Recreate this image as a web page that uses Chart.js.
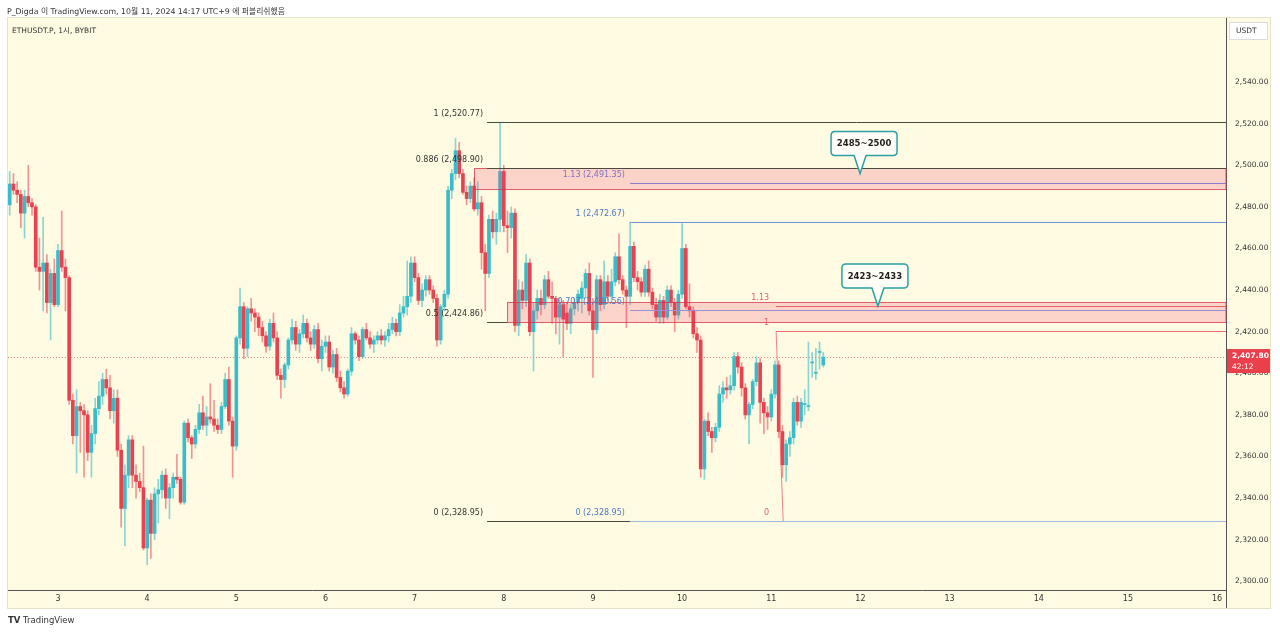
<!DOCTYPE html>
<html>
<head>
<meta charset="utf-8">
<title>ETHUSDT.P 1시</title>
<script src="https://cdn.jsdelivr.net/npm/chart.js@4.4.1/dist/chart.umd.min.js"></script>
<style>
  html, body { margin: 0; padding: 0; background: #ffffff; }
  body { width: 1280px; height: 634px; position: relative; overflow: hidden; }
  #chart { position: absolute; left: 0; top: 0; }
  .txt { position: absolute; font-family: "DejaVu Sans", "Noto Sans CJK KR", sans-serif; color: #333; white-space: nowrap; }
  #publish { left: 7px; top: 5px; font-size: 7.8px; }
  #symbol { left: 12px; top: 24px; font-size: 7.5px; }
  #brand { left: 8px; top: 615px; font-size: 8.5px; }
</style>
</head>
<body>
<canvas id="chart" width="1280" height="634"></canvas>
<div class="txt" id="publish">P_Digda 이 TradingView.com, 10월 11, 2024 14:17 UTC+9 에 퍼블리쉬했음</div>
<div class="txt" id="symbol">ETHUSDT.P, 1시, BYBIT</div>
<div class="txt" id="brand"><b>TV</b> TradingView</div>
<script>
// 1시간봉. x 값 = 10월 3일 00:00 부터 몇 시간째인지
const firstHour = -13

const opens = [
    2481, 2491, 2488, 2486, 2477, 2485, 2482, 2480, 2451, 2449,
    2453, 2434, 2448, 2433, 2459, 2451, 2446, 2387, 2370, 2384,
    2382, 2380, 2362, 2371, 2383, 2389, 2397, 2393, 2382, 2388,
    2363, 2335, 2351, 2368, 2351, 2348, 2345, 2316, 2339, 2323,
    2342, 2344, 2351, 2340, 2345, 2350, 2349, 2338, 2376, 2369,
    2366, 2373, 2381, 2375, 2379, 2378, 2375, 2373, 2384, 2397,
    2377, 2365, 2417, 2432, 2412, 2431, 2429, 2427, 2422, 2418,
    2413, 2424, 2417, 2399, 2397, 2404, 2416, 2422, 2414, 2419,
    2424, 2417, 2414, 2421, 2407, 2413, 2415, 2403, 2409, 2398,
    2393, 2390, 2401, 2419, 2416, 2408, 2421, 2417, 2414, 2416,
    2418, 2416, 2418, 2421, 2424, 2420, 2429, 2432, 2437, 2453,
    2446, 2435, 2440, 2445, 2440, 2436, 2416, 2432, 2438, 2488,
    2496, 2507, 2496, 2487, 2484, 2490, 2479, 2482, 2458, 2448,
    2474, 2468, 2474, 2497, 2471, 2470, 2477, 2423, 2440, 2435,
    2453, 2420, 2430, 2436, 2433, 2445, 2437, 2436, 2427, 2433,
    2429, 2424, 2431, 2434, 2436, 2441, 2448, 2430, 2421, 2445,
    2433, 2444, 2437, 2444, 2456, 2445, 2440, 2437, 2461, 2446,
    2444, 2439, 2450, 2439, 2433, 2427, 2435, 2427, 2440, 2434,
    2428, 2438, 2460, 2432, 2430, 2419, 2416, 2354, 2377, 2372,
    2369, 2374, 2390, 2393, 2392, 2394, 2408, 2403, 2393, 2380,
    2385, 2396, 2405, 2386, 2381, 2379, 2390, 2404, 2372, 2356,
    2366, 2369, 2386, 2377, 2385, 2384, 2405, 2400, 2410, 2404
]
const highs = [
    2497, 2496, 2492, 2488, 2488, 2500, 2484, 2481, 2465, 2475,
    2457, 2450, 2455, 2462, 2478, 2455, 2447, 2390, 2392, 2386,
    2385, 2382, 2375, 2388, 2396, 2400, 2402, 2399, 2392, 2392,
    2366, 2356, 2370, 2370, 2356, 2352, 2365, 2340, 2342, 2345,
    2349, 2353, 2354, 2347, 2352, 2361, 2350, 2377, 2378, 2370,
    2375, 2385, 2389, 2384, 2395, 2387, 2378, 2386, 2400, 2403,
    2379, 2418, 2441, 2434, 2432, 2436, 2431, 2429, 2425, 2420,
    2426, 2429, 2420, 2402, 2405, 2417, 2426, 2425, 2421, 2428,
    2426, 2420, 2423, 2424, 2416, 2418, 2418, 2411, 2412, 2401,
    2396, 2402, 2422, 2420, 2418, 2422, 2424, 2420, 2418, 2420,
    2421, 2420, 2424, 2427, 2426, 2433, 2437, 2454, 2456, 2456,
    2448, 2443, 2447, 2447, 2442, 2438, 2433, 2440, 2490, 2498,
    2513, 2511, 2498, 2490, 2492, 2494, 2492, 2485, 2462, 2476,
    2478, 2477, 2520.77, 2500, 2478, 2480, 2479, 2445, 2444, 2457,
    2455, 2434, 2440, 2440, 2447, 2449, 2444, 2437, 2436, 2435,
    2434, 2433, 2436, 2440, 2444, 2450, 2453, 2436, 2447, 2447,
    2454, 2447, 2450, 2458, 2467, 2447, 2442, 2472.67, 2463, 2449,
    2446, 2452, 2454, 2441, 2436, 2438, 2437, 2442, 2442, 2436,
    2440, 2472, 2462, 2443, 2432, 2422, 2418, 2378, 2381, 2374,
    2376, 2394, 2396, 2398, 2399, 2410, 2410, 2405, 2395, 2386,
    2397, 2408, 2407, 2388, 2384, 2392, 2406, 2406, 2375, 2368,
    2372, 2388, 2389, 2388, 2392, 2415, 2410, 2412, 2415, 2410
]
const lows = [
    2476, 2486, 2482, 2470, 2465, 2480, 2476, 2449, 2440, 2430,
    2429, 2416, 2432, 2432, 2449, 2430, 2385, 2366, 2352, 2362,
    2350, 2358, 2350, 2366, 2380, 2385, 2390, 2378, 2376, 2360,
    2326, 2317, 2345, 2345, 2340, 2343, 2315, 2308, 2311, 2320,
    2328, 2340, 2335, 2330, 2340, 2347, 2337, 2337, 2367, 2359,
    2364, 2371, 2373, 2370, 2376, 2372, 2371, 2371, 2383, 2375,
    2350, 2363, 2414, 2407, 2408, 2425, 2420, 2418, 2415, 2410,
    2411, 2415, 2397, 2388, 2393, 2402, 2414, 2411, 2410, 2417,
    2415, 2411, 2412, 2405, 2401, 2410, 2401, 2400, 2396, 2391,
    2388, 2389, 2399, 2414, 2406, 2407, 2416, 2412, 2410, 2414,
    2414, 2413, 2415, 2419, 2418, 2418, 2427, 2428, 2434, 2444,
    2433, 2432, 2437, 2438, 2434, 2413, 2414, 2430, 2436, 2484,
    2493, 2494, 2486, 2481, 2482, 2478, 2476, 2450, 2430, 2446,
    2465, 2462, 2468, 2468, 2458, 2465, 2420, 2418, 2431, 2432,
    2418, 2401, 2426, 2428, 2431, 2436, 2424, 2419, 2414, 2408,
    2421, 2419, 2428, 2430, 2429, 2436, 2428, 2398, 2419, 2430,
    2431, 2435, 2434, 2442, 2443, 2438, 2422, 2433, 2444, 2440,
    2437, 2437, 2437, 2431, 2425, 2424, 2424, 2426, 2432, 2420,
    2426, 2436, 2431, 2427, 2417, 2410, 2350, 2349, 2370, 2362,
    2367, 2372, 2386, 2388, 2390, 2392, 2400, 2389, 2378, 2366,
    2383, 2394, 2376, 2371, 2373, 2377, 2388, 2369, 2350, 2348,
    2360, 2366, 2375, 2374, 2380, 2382, 2398, 2397, 2402, 2403
]
const closes = [
    2491, 2488, 2486, 2477, 2485, 2482, 2480, 2451, 2449, 2453,
    2434, 2448, 2433, 2459, 2451, 2446, 2387, 2370, 2384, 2382,
    2380, 2362, 2371, 2383, 2389, 2397, 2393, 2382, 2388, 2363,
    2335, 2351, 2368, 2351, 2348, 2345, 2316, 2339, 2323, 2342,
    2344, 2351, 2340, 2345, 2350, 2349, 2338, 2376, 2369, 2366,
    2373, 2381, 2375, 2379, 2378, 2375, 2373, 2384, 2397, 2377,
    2365, 2417, 2432, 2412, 2431, 2429, 2427, 2422, 2418, 2413,
    2424, 2417, 2399, 2397, 2404, 2416, 2422, 2414, 2419, 2424,
    2417, 2414, 2421, 2407, 2413, 2415, 2403, 2409, 2398, 2393,
    2390, 2401, 2419, 2416, 2408, 2421, 2417, 2414, 2416, 2418,
    2416, 2418, 2421, 2424, 2420, 2429, 2432, 2437, 2453, 2446,
    2435, 2440, 2445, 2440, 2436, 2416, 2432, 2438, 2488, 2496,
    2507, 2496, 2487, 2484, 2490, 2479, 2482, 2458, 2448, 2474,
    2468, 2474, 2497, 2471, 2470, 2477, 2423, 2440, 2435, 2453,
    2420, 2430, 2436, 2433, 2445, 2437, 2436, 2427, 2433, 2426,
    2424, 2431, 2434, 2438, 2441, 2448, 2430, 2421, 2445, 2433,
    2444, 2437, 2444, 2456, 2445, 2440, 2437, 2461, 2446, 2444,
    2439, 2450, 2439, 2433, 2427, 2435, 2427, 2440, 2434, 2428,
    2438, 2460, 2432, 2430, 2419, 2416, 2354, 2377, 2372, 2369,
    2374, 2390, 2393, 2392, 2394, 2408, 2403, 2393, 2380, 2385,
    2396, 2405, 2386, 2381, 2379, 2390, 2404, 2372, 2356, 2366,
    2369, 2386, 2377, 2386, 2385, 2384, 2405, 2400, 2410, 2407.8
]

// 축 눈금
const dayTicks = [0, 24, 48, 72, 96, 120, 144, 168, 192, 216, 240, 264, 288, 312]
const dayLabels = ['3', '4', '5', '6', '7', '8', '9', '10', '11', '12', '13', '14', '15', '16']
const priceTicks = [2300, 2320, 2340, 2360, 2380, 2400, 2420, 2440, 2460, 2480, 2500, 2520, 2540]

const lastPrice = 2407.80
const lastCountdown = '42:12'

// 박스 (가격대)
const zoneTop = [2498.9, 2434.1]
const zoneBottom = [2488.4, 2424.7]
const zoneStart = [112.0, 120.9]

// 피보나치 3개
const blackFibLabels = ['1 (2,520.77)', '0.886 (2,498.90)', '0.5 (2,424.86)', '0 (2,328.95)']
const blackFibPrices = [2520.77, 2498.90, 2424.86, 2328.95]
const blackFibEnd = [null, null, 120.9, 154]
const blackFibStart = 115.5

const blueFibLabels = ['1.13 (2,491.35)', '1 (2,472.67)', '0.707 (2,430.56)', '0 (2,328.95)']
const blueFibPrices = [2491.35, 2472.67, 2430.56, 2328.95]
const blueFibColors = ['#8a7dd0', '#6f93d6', '#9a8fd6', '#9fb8e2']
const blueFibStart = 154

const redFibLabels = ['1.13', '1', '0']
const redFibPrices = [2432.2, 2420.3, 2328.95]
const redFibStart = 193.3
const redFibTrendHours = [193.3, 195.2]

// 말풍선
const calloutText = ['2485~2500', '2423~2433']
const calloutHour = [215.9, 220.7]
const calloutPrice = [2496.0, 2432.3]

const upColor = '#38bcc8'
const downColor = '#e8414f'
const upWick = 'rgba(56, 188, 200, 0.6)'
const downWick = 'rgba(232, 65, 79, 0.55)'
const FONT = '"DejaVu Sans", "Noto Sans CJK KR", sans-serif'

const candleHours = opens.map((v, i) => firstHour + i)
const isUp = i => closes[i] >= opens[i]

const drawings = {
    id: 'drawings',
    beforeDraw(chart) {
        const c = chart.ctx
        c.save()
        c.fillStyle = '#ffffff'
        c.fillRect(0, 0, chart.width, chart.height)
        c.fillStyle = '#fffbe3'
        c.fillRect(8, 18, 1262, 590)
        c.strokeStyle = '#e6e2cc'
        c.lineWidth = 1
        c.strokeRect(7.5, 17.5, 1263, 591)
        c.restore()
    },
    beforeDatasetsDraw(chart) {
        const { ctx: c, chartArea: a, scales: { y } } = chart
        const yy = Math.round(y.getPixelForValue(lastPrice)) + 0.5
        c.save()
        c.strokeStyle = 'rgba(232, 65, 79, 0.6)'
        c.lineWidth = 1
        c.setLineDash([1, 2])
        c.beginPath()
        c.moveTo(a.left, yy)
        c.lineTo(a.right, yy)
        c.stroke()
        c.restore()
    },
    afterDatasetsDraw(chart) {
        const { ctx: c, chartArea: a, scales: { x, y } } = chart
        const px = h => x.getPixelForValue(h)
        const py = p => Math.round(y.getPixelForValue(p)) + 0.5
        const hline = (h0, h1, p, color) => {
            const x0 = h0 == null ? a.left : px(h0)
            const x1 = h1 == null ? a.right : px(h1)
            c.strokeStyle = color
            c.beginPath()
            c.moveTo(x0, py(p))
            c.lineTo(x1, py(p))
            c.stroke()
        }
        const label = (txt, h, p, color) => {
            c.fillStyle = color
            c.fillText(txt, px(h), py(p) - 9)
        }
        c.save()
        c.lineWidth = 1

        // 박스
        zoneTop.forEach((top, i) => {
            const x0 = Math.round(px(zoneStart[i])) + 0.5
            const y0 = py(top), y1 = py(zoneBottom[i])
            c.fillStyle = 'rgba(236, 70, 110, 0.22)'
            c.fillRect(x0, y0, a.right - x0, y1 - y0)
            c.strokeStyle = 'rgba(214, 48, 70, 0.75)'
            c.strokeRect(x0, y0, a.right - x0, y1 - y0)
        })

        c.font = '8px ' + FONT
        c.textAlign = 'right'
        c.textBaseline = 'middle'

        // 빨강 피보 (0 선은 파랑 선과 겹쳐서 라벨만)
        redFibPrices.forEach((p, i) => {
            if (i < 2) hline(redFibStart, null, p, 'rgba(232, 80, 92, 0.85)')
            label(redFibLabels[i], 191.4, p, '#e0606a')
        })
        c.strokeStyle = 'rgba(232, 80, 92, 0.7)'
        c.beginPath()
        c.moveTo(px(redFibTrendHours[0]), py(redFibPrices[1]))
        c.lineTo(px(redFibTrendHours[1]), py(redFibPrices[2]))
        c.stroke()

        // 검정 피보
        blackFibPrices.forEach((p, i) => {
            hline(blackFibStart, blackFibEnd[i], p, '#4a4a40')
            label(blackFibLabels[i], 114.4, p, '#333333')
        })

        // 파랑 피보
        blueFibPrices.forEach((p, i) => {
            hline(blueFibStart, null, p, blueFibColors[i])
            label(blueFibLabels[i], 152.6, p, i === 0 ? '#7f6fc7' : '#4f78c4')
        })

        // 말풍선
        calloutText.forEach((t, i) => {
            const tx = px(calloutHour[i]), ty = y.getPixelForValue(calloutPrice[i])
            const w = 66, h = 24, r = 4
            const cx = tx + (i === 0 ? 4 : -3)
            const bottom = ty - 18, top = bottom - h
            const left = cx - w / 2, right = cx + w / 2
            c.beginPath()
            c.moveTo(left + r, top)
            c.lineTo(right - r, top)
            c.quadraticCurveTo(right, top, right, top + r)
            c.lineTo(right, bottom - r)
            c.quadraticCurveTo(right, bottom, right - r, bottom)
            c.lineTo(tx + 6, bottom)
            c.lineTo(tx, ty)
            c.lineTo(tx - 6, bottom)
            c.lineTo(left + r, bottom)
            c.quadraticCurveTo(left, bottom, left, bottom - r)
            c.lineTo(left, top + r)
            c.quadraticCurveTo(left, top, left + r, top)
            c.closePath()
            c.fillStyle = '#fffef6'
            c.fill()
            c.strokeStyle = '#2aa0a6'
            c.lineWidth = 1.5
            c.stroke()
            c.lineWidth = 1
            c.fillStyle = '#1e1e1e'
            c.font = 'bold 8.5px ' + FONT
            c.textAlign = 'center'
            c.fillText(t, cx, top + h / 2 + 0.5)
        })
        c.restore()
    },
    afterDraw(chart) {
        const { ctx: c, chartArea: a, scales: { y } } = chart
        c.save()
        // 축 구분선 아래로
        c.strokeStyle = '#555'
        c.beginPath()
        c.moveTo(Math.round(a.right) + 0.5, a.bottom)
        c.lineTo(Math.round(a.right) + 0.5, 608)
        c.stroke()

        // 현재가 라벨
        const yy = y.getPixelForValue(lastPrice)
        c.fillStyle = '#ec3f4c'
        c.fillRect(a.right + 1, yy - 8, 43, 24)
        c.fillStyle = '#ffffff'
        c.textAlign = 'left'
        c.textBaseline = 'middle'
        c.font = 'bold 7.5px ' + FONT
        c.fillText(lastPrice.toLocaleString('en-US', { minimumFractionDigits: 2 }), a.right + 6, yy - 1)
        c.font = '7.5px ' + FONT
        c.fillText(lastCountdown, a.right + 6, yy + 10)

        // USDT
        c.fillStyle = '#ffffff'
        c.fillRect(1229, 22, 39, 18)
        c.strokeStyle = '#dcdcdc'
        c.strokeRect(1229.5, 22.5, 38, 17)
        c.fillStyle = '#333'
        c.fillText('USDT', 1236, 31.5)
        c.restore()
    }
}

var ctx = document.getElementById('chart')
var myChart = new Chart(ctx, {
    type: 'bar',
    data: {
        datasets: [
        {
            label: 'body',
            data: opens.map((o, i) => ({ x: candleHours[i], y: [o, closes[i]] })),
            backgroundColor: c => isUp(c.dataIndex) ? upColor : downColor,
            borderWidth: 0,
            barThickness: 3,
            minBarLength: 1,
            grouped: false,
            order: 0
        },
        {
            label: 'wick',
            data: lows.map((l, i) => ({ x: candleHours[i], y: [l, highs[i]] })),
            backgroundColor: c => isUp(c.dataIndex) ? upWick : downWick,
            borderWidth: 0,
            barThickness: 1,
            grouped: false,
            order: 1
        }
    ]
    },
    options: {
        responsive: false,
        animation: false,
        layout: { padding: { left: 8, top: 18, right: 10, bottom: 26 } },
        plugins: {
            legend: { display: false },
            tooltip: { enabled: false }
        },
        scales: {
            x: {
                type: 'linear',
                min: -13.46,
                max: 314.4,
                offset: false,
                grid: { display: false, drawTicks: false, offset: false },
                border: { display: true, color: '#555', width: 1 },
                afterBuildTicks: s => { s.ticks = dayTicks.map(v => ({ value: v })) },
                afterFit: s => { s.height = 18 },
                ticks: {
                    autoSkip: false,
                    maxRotation: 0,
                    padding: 4,
                    color: '#333',
                    font: { family: FONT, size: 8 },
                    callback: (v, i) => dayLabels[i]
                }
            },
            y: {
                type: 'linear',
                position: 'right',
                min: 2295.8,
                max: 2570.8,
                beginAtZero: false,
                grid: { display: false, drawTicks: false },
                border: { display: true, color: '#555', width: 1 },
                afterBuildTicks: s => { s.ticks = priceTicks.map(v => ({ value: v })) },
                afterFit: s => { s.width = 44 },
                ticks: {
                    padding: 9,
                    color: '#333',
                    font: { family: FONT, size: 7.5 },
                    callback: v => v.toLocaleString('en-US', { minimumFractionDigits: 2 })
                }
            }
        }
    },
    plugins: [drawings]
})
</script>
</body>
</html>
